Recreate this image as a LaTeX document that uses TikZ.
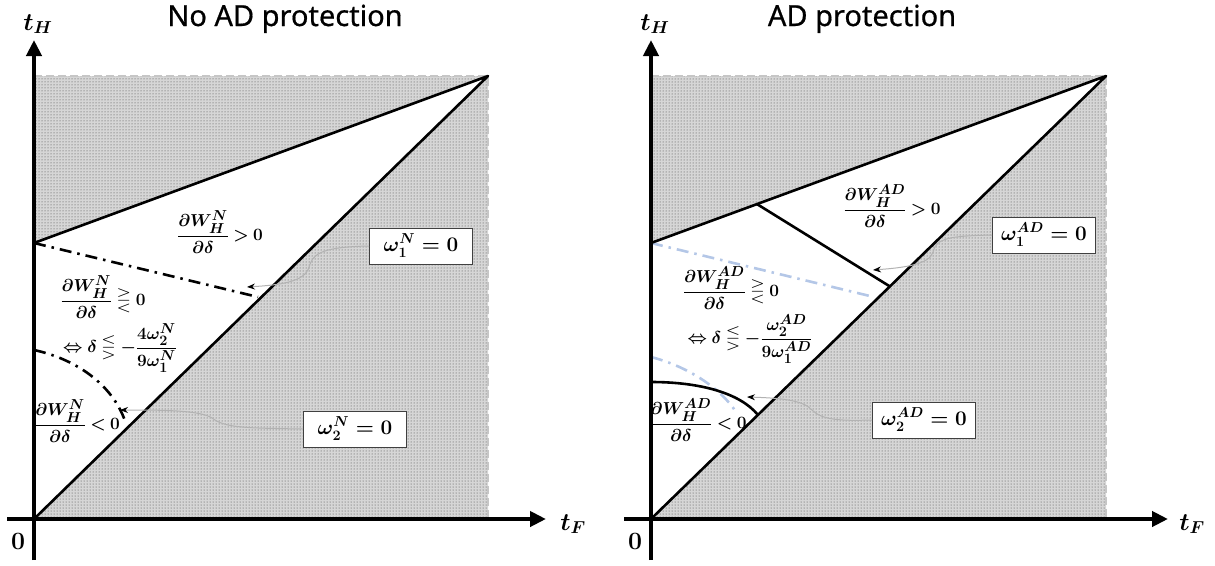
\documentclass[tikz,border=0pt]{standalone}
\usepackage{amsmath,amssymb}
\usepackage[no-math]{fontspec}
\newfontfamily\titlefont[FakeBold=0.6]{Noto Sans}
\usetikzlibrary{arrows.meta,patterns,calc}
\definecolor{ltblue}{RGB}{180,199,231}
\newcommand\tightmath{\thickmuskip=4mu plus 2mu\relax\medmuskip=3mu\relax}
\tikzset{
  shadefill/.style={fill=gray!32},
  shadedots/.style={pattern=dots, pattern color=black!75},
  border/.style={draw=gray!45, line width=2.2pt, dash pattern=on 8pt off 4pt},
  edge/.style={line width=2.6pt, line cap=round, line join=round},
  axis/.style={line width=4.5pt, -{Triangle[length=16pt,width=15pt]}},
  dashdot/.style={line width=2.6pt, dash pattern=on 12pt off 6pt on 2.5pt off 6pt},
  lbl/.style={font=\fontsize{19}{22}\selectfont\boldmath, inner sep=0pt},
  eqbox/.style={draw=black!75, line width=1pt, fill=white, font=\fontsize{21}{24}\selectfont\boldmath, minimum width=103pt, minimum height=36pt, inner sep=2pt},
  conn/.style={draw=gray!60, line width=1pt, -{Stealth[length=8pt,width=6pt,black]}},
  axlbl/.style={font=\fontsize{25}{27}\selectfont\boldmath, inner sep=0pt},
  ttl/.style={font=\titlefont\fontsize{29}{32}\selectfont, anchor=base, inner sep=0pt},
}
\begin{document}
\begin{tikzpicture}[x=1pt,y=-1pt]
\useasboundingbox (0,0) rectangle (1215,565);
% ---------------- left panel ----------------
\coordinate (O1) at (34,519);
\coordinate (A1) at (34,243);
\coordinate (C1) at (488,76);
\coordinate (TL1) at (34,76);
\coordinate (BR1) at (488,519);
\fill[shadefill, even odd rule] (O1) rectangle (C1) (O1) -- (A1) -- (C1) -- cycle;
\fill[shadedots, even odd rule] (O1) rectangle (C1) (O1) -- (A1) -- (C1) -- cycle;
\draw[border] (TL1) -- (C1) -- (BR1);
\draw[edge] (A1) -- (C1) -- (O1);
\draw[dashdot] (A1) -- (258,297);
\draw[dashdot] (34,350) .. controls (80,360) and (115,388) .. (126,424);
\draw[axis] (34,560) -- (34,40);
\draw[axis] (7,519) -- (546,519);
\node[axlbl] (th1) at (38,24) {$t_H$};
\node[axlbl] (tf1) at (573,524) {$t_F$};
\node[axlbl] (z1) at (18,541) {$0$};
\node[ttl] (ti1) at (285,26) {No AD protection};
\node[lbl] (g1) at (220,232) {$\tightmath\displaystyle\frac{\partial W_H^N}{\partial\delta}>0$};
\node[lbl] (m1) at (103,297) {$\tightmath\displaystyle\frac{\partial W_H^N}{\partial\delta}\gtreqless 0$};
\node[lbl] (e1) at (120,348) {$\tightmath\displaystyle\Leftrightarrow\delta\lesseqgtr-\frac{4\omega_2^N}{9\omega_1^N}$};
\node[lbl] (l1) at (77,421) {$\tightmath\displaystyle\frac{\partial W_H^N}{\partial\delta}<0$};
\node[eqbox] (b11) at (421,246) {$\omega_1^N=0$};
\node[eqbox] (b12) at (355,429) {$\omega_2^N=0$};
\coordinate (t11) at (247,287);
\coordinate (t12) at (120,410);
\draw[conn] (b11.west) .. controls (318,247) and (313,255) .. (309,267) .. controls (305,282) and (280,285) .. (t11);
\draw[conn] (b12.west) .. controls (245,428) and (225,428) .. (212,418) .. controls (200,410) and (160,410) .. (t12);
% ---------------- right panel ----------------
\coordinate (O2) at (651,519);
\coordinate (A2) at (651,243);
\coordinate (C2) at (1106,76);
\coordinate (TL2) at (651,76);
\coordinate (BR2) at (1106,519);
\fill[shadefill, even odd rule] (O2) rectangle (C2) (O2) -- (A2) -- (C2) -- cycle;
\fill[shadedots, even odd rule] (O2) rectangle (C2) (O2) -- (A2) -- (C2) -- cycle;
\draw[border] (TL2) -- (C2) -- (BR2);
\draw[dashdot, ltblue] (A2) -- (874,297);
\draw[dashdot, ltblue] (651,357) .. controls (690,367) and (722,390) .. (736,412);
\draw[edge] (A2) -- (C2) -- (O2);
\draw[edge] ($(A2)!0.233!(C2)$) -- ($(O2)!0.525!(C2)$);
\draw[edge] (651,382) .. controls (700,382) and (740,393) .. ($(O2)!0.235!(C2)$);
\draw[axis] (651,560) -- (651,40);
\draw[axis] (624,519) -- (1168,519);
\node[axlbl] (th2) at (655,24) {$t_H$};
\node[axlbl] (tf2) at (1192,524) {$t_F$};
\node[axlbl] (z2) at (635,541) {$0$};
\node[ttl] (ti2) at (862,26) {AD protection};
\node[lbl] (g2) at (892,206) {$\tightmath\displaystyle\frac{\partial W_H^{AD}}{\partial\delta}>0$};
\node[lbl] (m2) at (731,288) {$\tightmath\displaystyle\frac{\partial W_H^{AD}}{\partial\delta}\gtreqless 0$};
\node[lbl] (e2) at (750,339) {$\tightmath\displaystyle\Leftrightarrow\delta\lesseqgtr-\frac{\omega_2^{AD}}{9\omega_1^{AD}}$};
\node[lbl] (l2) at (698,420) {$\tightmath\displaystyle\frac{\partial W_H^{AD}}{\partial\delta}<0$};
\node[eqbox] (b21) at (1044,235) {$\omega_1^{AD}=0$};
\node[eqbox] (b22) at (924,420) {$\omega_2^{AD}=0$};
\coordinate (t21) at (873,270);
\coordinate (t22) at (747,397);
\draw[conn] (b21.west) .. controls (950,236) and (936,238) .. (933,252) .. controls (930,265) and (900,268) .. (t21);
\draw[conn] (b22.west) .. controls (840,421) and (822,420) .. (812,410) .. controls (803,400) and (780,398) .. (t22);
\end{tikzpicture}
\end{document}
